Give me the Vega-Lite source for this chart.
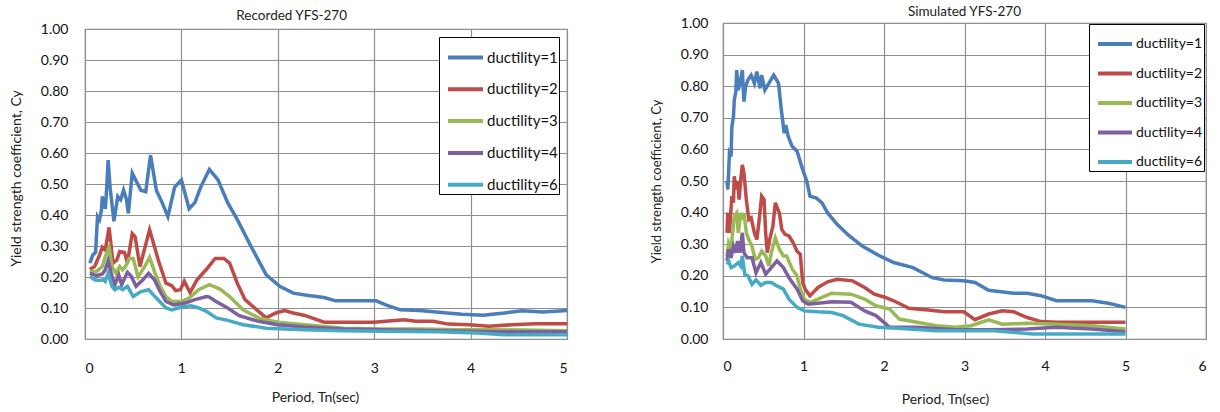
{
  "$schema": "https://vega.github.io/schema/vega-lite/v6.json",
  "padding": {"left": 8, "top": 3, "right": 0, "bottom": 0},
  "background": "white",
  "spacing": 74,
  "config": {
    "font": "Lato",
    "view": {"stroke": "#8a8a8a", "strokeWidth": 1.2},
    "axis": {
      "labelFont": "Lato", "titleFont": "Lato", "labelColor": "#111", "titleColor": "#222",
      "titleFontWeight": "normal", "gridColor": "#8f8f8f", "gridWidth": 1.2, "gridOpacity": 1,
      "ticks": false, "domain": false
    },
    "legend": {"labelFont": "Lato", "labelColor": "#111"},
    "title": {"font": "Lato", "fontWeight": "normal", "color": "#222", "anchor": "middle"}
  },
  "resolve": {"legend": {"color": "independent"}},
  "datasets": {
    "rec": [
      {"T":0.05,"Cy":0.245,"d":"ductility=1"},{"T":0.08,"Cy":0.27,"d":"ductility=1"},{"T":0.11,"Cy":0.28,"d":"ductility=1"},{"T":0.13,"Cy":0.395,"d":"ductility=1"},{"T":0.15,"Cy":0.385,"d":"ductility=1"},{"T":0.17,"Cy":0.415,"d":"ductility=1"},{"T":0.18,"Cy":0.46,"d":"ductility=1"},{"T":0.21,"Cy":0.42,"d":"ductility=1"},{"T":0.22,"Cy":0.46,"d":"ductility=1"},{"T":0.24,"Cy":0.577,"d":"ductility=1"},{"T":0.26,"Cy":0.49,"d":"ductility=1"},{"T":0.30,"Cy":0.38,"d":"ductility=1"},{"T":0.34,"Cy":0.46,"d":"ductility=1"},{"T":0.37,"Cy":0.45,"d":"ductility=1"},{"T":0.40,"Cy":0.48,"d":"ductility=1"},{"T":0.43,"Cy":0.45,"d":"ductility=1"},{"T":0.45,"Cy":0.405,"d":"ductility=1"},{"T":0.49,"Cy":0.535,"d":"ductility=1"},{"T":0.53,"Cy":0.51,"d":"ductility=1"},{"T":0.58,"Cy":0.48,"d":"ductility=1"},{"T":0.63,"Cy":0.475,"d":"ductility=1"},{"T":0.68,"Cy":0.593,"d":"ductility=1"},{"T":0.74,"Cy":0.48,"d":"ductility=1"},{"T":0.80,"Cy":0.44,"d":"ductility=1"},{"T":0.86,"Cy":0.395,"d":"ductility=1"},{"T":0.93,"Cy":0.49,"d":"ductility=1"},{"T":1.00,"Cy":0.513,"d":"ductility=1"},{"T":1.08,"Cy":0.42,"d":"ductility=1"},{"T":1.14,"Cy":0.44,"d":"ductility=1"},{"T":1.20,"Cy":0.49,"d":"ductility=1"},{"T":1.29,"Cy":0.547,"d":"ductility=1"},{"T":1.38,"Cy":0.513,"d":"ductility=1"},{"T":1.48,"Cy":0.44,"d":"ductility=1"},{"T":1.58,"Cy":0.385,"d":"ductility=1"},{"T":1.72,"Cy":0.30,"d":"ductility=1"},{"T":1.88,"Cy":0.207,"d":"ductility=1"},{"T":2.02,"Cy":0.17,"d":"ductility=1"},{"T":2.16,"Cy":0.148,"d":"ductility=1"},{"T":2.32,"Cy":0.14,"d":"ductility=1"},{"T":2.48,"Cy":0.134,"d":"ductility=1"},{"T":2.60,"Cy":0.123,"d":"ductility=1"},{"T":2.80,"Cy":0.123,"d":"ductility=1"},{"T":3.02,"Cy":0.123,"d":"ductility=1"},{"T":3.12,"Cy":0.11,"d":"ductility=1"},{"T":3.27,"Cy":0.094,"d":"ductility=1"},{"T":3.47,"Cy":0.092,"d":"ductility=1"},{"T":3.67,"Cy":0.086,"d":"ductility=1"},{"T":3.91,"Cy":0.08,"d":"ductility=1"},{"T":4.13,"Cy":0.077,"d":"ductility=1"},{"T":4.35,"Cy":0.084,"d":"ductility=1"},{"T":4.53,"Cy":0.091,"d":"ductility=1"},{"T":4.75,"Cy":0.087,"d":"ductility=1"},{"T":5.00,"Cy":0.092,"d":"ductility=1"},
      {"T":0.05,"Cy":0.225,"d":"ductility=2"},{"T":0.10,"Cy":0.234,"d":"ductility=2"},{"T":0.15,"Cy":0.27,"d":"ductility=2"},{"T":0.18,"Cy":0.296,"d":"ductility=2"},{"T":0.21,"Cy":0.287,"d":"ductility=2"},{"T":0.25,"Cy":0.36,"d":"ductility=2"},{"T":0.29,"Cy":0.245,"d":"ductility=2"},{"T":0.33,"Cy":0.255,"d":"ductility=2"},{"T":0.36,"Cy":0.282,"d":"ductility=2"},{"T":0.41,"Cy":0.279,"d":"ductility=2"},{"T":0.44,"Cy":0.245,"d":"ductility=2"},{"T":0.49,"Cy":0.34,"d":"ductility=2"},{"T":0.52,"Cy":0.33,"d":"ductility=2"},{"T":0.57,"Cy":0.234,"d":"ductility=2"},{"T":0.67,"Cy":0.352,"d":"ductility=2"},{"T":0.76,"Cy":0.255,"d":"ductility=2"},{"T":0.84,"Cy":0.18,"d":"ductility=2"},{"T":0.90,"Cy":0.172,"d":"ductility=2"},{"T":0.94,"Cy":0.156,"d":"ductility=2"},{"T":0.99,"Cy":0.159,"d":"ductility=2"},{"T":1.03,"Cy":0.186,"d":"ductility=2"},{"T":1.09,"Cy":0.15,"d":"ductility=2"},{"T":1.16,"Cy":0.19,"d":"ductility=2"},{"T":1.26,"Cy":0.225,"d":"ductility=2"},{"T":1.35,"Cy":0.26,"d":"ductility=2"},{"T":1.44,"Cy":0.26,"d":"ductility=2"},{"T":1.50,"Cy":0.245,"d":"ductility=2"},{"T":1.58,"Cy":0.18,"d":"ductility=2"},{"T":1.66,"Cy":0.127,"d":"ductility=2"},{"T":1.76,"Cy":0.10,"d":"ductility=2"},{"T":1.88,"Cy":0.068,"d":"ductility=2"},{"T":1.98,"Cy":0.084,"d":"ductility=2"},{"T":2.07,"Cy":0.092,"d":"ductility=2"},{"T":2.16,"Cy":0.084,"d":"ductility=2"},{"T":2.28,"Cy":0.076,"d":"ductility=2"},{"T":2.48,"Cy":0.054,"d":"ductility=2"},{"T":2.68,"Cy":0.054,"d":"ductility=2"},{"T":3.00,"Cy":0.054,"d":"ductility=2"},{"T":3.12,"Cy":0.057,"d":"ductility=2"},{"T":3.31,"Cy":0.062,"d":"ductility=2"},{"T":3.43,"Cy":0.057,"d":"ductility=2"},{"T":3.61,"Cy":0.057,"d":"ductility=2"},{"T":3.77,"Cy":0.048,"d":"ductility=2"},{"T":3.99,"Cy":0.046,"d":"ductility=2"},{"T":4.19,"Cy":0.041,"d":"ductility=2"},{"T":4.43,"Cy":0.046,"d":"ductility=2"},{"T":4.67,"Cy":0.049,"d":"ductility=2"},{"T":5.00,"Cy":0.049,"d":"ductility=2"},
      {"T":0.05,"Cy":0.218,"d":"ductility=3"},{"T":0.12,"Cy":0.218,"d":"ductility=3"},{"T":0.18,"Cy":0.234,"d":"ductility=3"},{"T":0.21,"Cy":0.266,"d":"ductility=3"},{"T":0.25,"Cy":0.296,"d":"ductility=3"},{"T":0.28,"Cy":0.234,"d":"ductility=3"},{"T":0.32,"Cy":0.212,"d":"ductility=3"},{"T":0.36,"Cy":0.234,"d":"ductility=3"},{"T":0.39,"Cy":0.223,"d":"ductility=3"},{"T":0.42,"Cy":0.234,"d":"ductility=3"},{"T":0.46,"Cy":0.26,"d":"ductility=3"},{"T":0.50,"Cy":0.26,"d":"ductility=3"},{"T":0.55,"Cy":0.20,"d":"ductility=3"},{"T":0.62,"Cy":0.234,"d":"ductility=3"},{"T":0.67,"Cy":0.263,"d":"ductility=3"},{"T":0.72,"Cy":0.218,"d":"ductility=3"},{"T":0.78,"Cy":0.17,"d":"ductility=3"},{"T":0.84,"Cy":0.137,"d":"ductility=3"},{"T":0.90,"Cy":0.121,"d":"ductility=3"},{"T":1.00,"Cy":0.121,"d":"ductility=3"},{"T":1.08,"Cy":0.132,"d":"ductility=3"},{"T":1.18,"Cy":0.159,"d":"ductility=3"},{"T":1.29,"Cy":0.175,"d":"ductility=3"},{"T":1.40,"Cy":0.161,"d":"ductility=3"},{"T":1.50,"Cy":0.137,"d":"ductility=3"},{"T":1.64,"Cy":0.094,"d":"ductility=3"},{"T":1.80,"Cy":0.068,"d":"ductility=3"},{"T":2.00,"Cy":0.054,"d":"ductility=3"},{"T":2.28,"Cy":0.046,"d":"ductility=3"},{"T":2.68,"Cy":0.035,"d":"ductility=3"},{"T":3.08,"Cy":0.032,"d":"ductility=3"},{"T":3.47,"Cy":0.032,"d":"ductility=3"},{"T":3.87,"Cy":0.030,"d":"ductility=3"},{"T":4.27,"Cy":0.030,"d":"ductility=3"},{"T":5.00,"Cy":0.027,"d":"ductility=3"},
      {"T":0.05,"Cy":0.212,"d":"ductility=4"},{"T":0.12,"Cy":0.204,"d":"ductility=4"},{"T":0.18,"Cy":0.21,"d":"ductility=4"},{"T":0.21,"Cy":0.223,"d":"ductility=4"},{"T":0.24,"Cy":0.253,"d":"ductility=4"},{"T":0.28,"Cy":0.202,"d":"ductility=4"},{"T":0.31,"Cy":0.175,"d":"ductility=4"},{"T":0.35,"Cy":0.207,"d":"ductility=4"},{"T":0.38,"Cy":0.175,"d":"ductility=4"},{"T":0.44,"Cy":0.215,"d":"ductility=4"},{"T":0.48,"Cy":0.202,"d":"ductility=4"},{"T":0.53,"Cy":0.17,"d":"ductility=4"},{"T":0.60,"Cy":0.191,"d":"ductility=4"},{"T":0.66,"Cy":0.212,"d":"ductility=4"},{"T":0.72,"Cy":0.191,"d":"ductility=4"},{"T":0.78,"Cy":0.153,"d":"ductility=4"},{"T":0.84,"Cy":0.121,"d":"ductility=4"},{"T":0.92,"Cy":0.11,"d":"ductility=4"},{"T":1.04,"Cy":0.116,"d":"ductility=4"},{"T":1.14,"Cy":0.127,"d":"ductility=4"},{"T":1.26,"Cy":0.137,"d":"ductility=4"},{"T":1.29,"Cy":0.135,"d":"ductility=4"},{"T":1.36,"Cy":0.121,"d":"ductility=4"},{"T":1.48,"Cy":0.10,"d":"ductility=4"},{"T":1.60,"Cy":0.075,"d":"ductility=4"},{"T":1.80,"Cy":0.057,"d":"ductility=4"},{"T":2.00,"Cy":0.046,"d":"ductility=4"},{"T":2.28,"Cy":0.039,"d":"ductility=4"},{"T":2.68,"Cy":0.032,"d":"ductility=4"},{"T":3.08,"Cy":0.030,"d":"ductility=4"},{"T":3.67,"Cy":0.027,"d":"ductility=4"},{"T":4.27,"Cy":0.023,"d":"ductility=4"},{"T":5.00,"Cy":0.023,"d":"ductility=4"},
      {"T":0.05,"Cy":0.202,"d":"ductility=6"},{"T":0.10,"Cy":0.191,"d":"ductility=6"},{"T":0.15,"Cy":0.189,"d":"ductility=6"},{"T":0.19,"Cy":0.191,"d":"ductility=6"},{"T":0.21,"Cy":0.186,"d":"ductility=6"},{"T":0.24,"Cy":0.212,"d":"ductility=6"},{"T":0.28,"Cy":0.17,"d":"ductility=6"},{"T":0.31,"Cy":0.159,"d":"ductility=6"},{"T":0.35,"Cy":0.167,"d":"ductility=6"},{"T":0.39,"Cy":0.159,"d":"ductility=6"},{"T":0.44,"Cy":0.17,"d":"ductility=6"},{"T":0.50,"Cy":0.137,"d":"ductility=6"},{"T":0.58,"Cy":0.153,"d":"ductility=6"},{"T":0.66,"Cy":0.159,"d":"ductility=6"},{"T":0.74,"Cy":0.132,"d":"ductility=6"},{"T":0.84,"Cy":0.10,"d":"ductility=6"},{"T":0.90,"Cy":0.094,"d":"ductility=6"},{"T":1.00,"Cy":0.103,"d":"ductility=6"},{"T":1.10,"Cy":0.107,"d":"ductility=6"},{"T":1.18,"Cy":0.10,"d":"ductility=6"},{"T":1.26,"Cy":0.089,"d":"ductility=6"},{"T":1.36,"Cy":0.068,"d":"ductility=6"},{"T":1.48,"Cy":0.06,"d":"ductility=6"},{"T":1.64,"Cy":0.046,"d":"ductility=6"},{"T":1.88,"Cy":0.035,"d":"ductility=6"},{"T":2.28,"Cy":0.030,"d":"ductility=6"},{"T":2.68,"Cy":0.027,"d":"ductility=6"},{"T":3.08,"Cy":0.025,"d":"ductility=6"},{"T":3.67,"Cy":0.023,"d":"ductility=6"},{"T":4.07,"Cy":0.019,"d":"ductility=6"},{"T":4.35,"Cy":0.014,"d":"ductility=6"},{"T":5.00,"Cy":0.014,"d":"ductility=6"}
    ],
    "sim": [
      {"T":0.05,"Cy":0.50,"d":"ductility=1"},{"T":0.06,"Cy":0.473,"d":"ductility=1"},{"T":0.08,"Cy":0.588,"d":"ductility=1"},{"T":0.10,"Cy":0.578,"d":"ductility=1"},{"T":0.11,"Cy":0.672,"d":"ductility=1"},{"T":0.13,"Cy":0.704,"d":"ductility=1"},{"T":0.14,"Cy":0.756,"d":"ductility=1"},{"T":0.16,"Cy":0.783,"d":"ductility=1"},{"T":0.17,"Cy":0.851,"d":"ductility=1"},{"T":0.19,"Cy":0.788,"d":"ductility=1"},{"T":0.22,"Cy":0.82,"d":"ductility=1"},{"T":0.24,"Cy":0.851,"d":"ductility=1"},{"T":0.26,"Cy":0.751,"d":"ductility=1"},{"T":0.28,"Cy":0.798,"d":"ductility=1"},{"T":0.31,"Cy":0.82,"d":"ductility=1"},{"T":0.35,"Cy":0.835,"d":"ductility=1"},{"T":0.39,"Cy":0.809,"d":"ductility=1"},{"T":0.42,"Cy":0.846,"d":"ductility=1"},{"T":0.46,"Cy":0.793,"d":"ductility=1"},{"T":0.48,"Cy":0.835,"d":"ductility=1"},{"T":0.52,"Cy":0.788,"d":"ductility=1"},{"T":0.58,"Cy":0.814,"d":"ductility=1"},{"T":0.63,"Cy":0.835,"d":"ductility=1"},{"T":0.69,"Cy":0.809,"d":"ductility=1"},{"T":0.72,"Cy":0.735,"d":"ductility=1"},{"T":0.76,"Cy":0.651,"d":"ductility=1"},{"T":0.78,"Cy":0.677,"d":"ductility=1"},{"T":0.81,"Cy":0.641,"d":"ductility=1"},{"T":0.86,"Cy":0.609,"d":"ductility=1"},{"T":0.92,"Cy":0.594,"d":"ductility=1"},{"T":0.99,"Cy":0.536,"d":"ductility=1"},{"T":1.04,"Cy":0.50,"d":"ductility=1"},{"T":1.08,"Cy":0.452,"d":"ductility=1"},{"T":1.16,"Cy":0.446,"d":"ductility=1"},{"T":1.23,"Cy":0.431,"d":"ductility=1"},{"T":1.30,"Cy":0.399,"d":"ductility=1"},{"T":1.42,"Cy":0.362,"d":"ductility=1"},{"T":1.57,"Cy":0.326,"d":"ductility=1"},{"T":1.73,"Cy":0.294,"d":"ductility=1"},{"T":1.93,"Cy":0.265,"d":"ductility=1"},{"T":2.12,"Cy":0.242,"d":"ductility=1"},{"T":2.36,"Cy":0.226,"d":"ductility=1"},{"T":2.60,"Cy":0.194,"d":"ductility=1"},{"T":2.75,"Cy":0.187,"d":"ductility=1"},{"T":2.99,"Cy":0.184,"d":"ductility=1"},{"T":3.13,"Cy":0.179,"d":"ductility=1"},{"T":3.30,"Cy":0.154,"d":"ductility=1"},{"T":3.61,"Cy":0.145,"d":"ductility=1"},{"T":3.78,"Cy":0.145,"d":"ductility=1"},{"T":3.95,"Cy":0.137,"d":"ductility=1"},{"T":4.14,"Cy":0.121,"d":"ductility=1"},{"T":4.58,"Cy":0.121,"d":"ductility=1"},{"T":4.79,"Cy":0.113,"d":"ductility=1"},{"T":5.00,"Cy":0.10,"d":"ductility=1"},
      {"T":0.05,"Cy":0.336,"d":"ductility=2"},{"T":0.06,"Cy":0.40,"d":"ductility=2"},{"T":0.08,"Cy":0.336,"d":"ductility=2"},{"T":0.11,"Cy":0.452,"d":"ductility=2"},{"T":0.13,"Cy":0.431,"d":"ductility=2"},{"T":0.14,"Cy":0.515,"d":"ductility=2"},{"T":0.16,"Cy":0.473,"d":"ductility=2"},{"T":0.18,"Cy":0.50,"d":"ductility=2"},{"T":0.20,"Cy":0.441,"d":"ductility=2"},{"T":0.22,"Cy":0.504,"d":"ductility=2"},{"T":0.24,"Cy":0.551,"d":"ductility=2"},{"T":0.26,"Cy":0.525,"d":"ductility=2"},{"T":0.29,"Cy":0.441,"d":"ductility=2"},{"T":0.32,"Cy":0.378,"d":"ductility=2"},{"T":0.35,"Cy":0.383,"d":"ductility=2"},{"T":0.39,"Cy":0.336,"d":"ductility=2"},{"T":0.42,"Cy":0.315,"d":"ductility=2"},{"T":0.45,"Cy":0.378,"d":"ductility=2"},{"T":0.48,"Cy":0.452,"d":"ductility=2"},{"T":0.51,"Cy":0.441,"d":"ductility=2"},{"T":0.53,"Cy":0.336,"d":"ductility=2"},{"T":0.55,"Cy":0.273,"d":"ductility=2"},{"T":0.58,"Cy":0.315,"d":"ductility=2"},{"T":0.62,"Cy":0.357,"d":"ductility=2"},{"T":0.65,"Cy":0.431,"d":"ductility=2"},{"T":0.70,"Cy":0.399,"d":"ductility=2"},{"T":0.73,"Cy":0.347,"d":"ductility=2"},{"T":0.77,"Cy":0.331,"d":"ductility=2"},{"T":0.82,"Cy":0.326,"d":"ductility=2"},{"T":0.87,"Cy":0.305,"d":"ductility=2"},{"T":0.92,"Cy":0.278,"d":"ductility=2"},{"T":0.96,"Cy":0.268,"d":"ductility=2"},{"T":0.99,"Cy":0.179,"d":"ductility=2"},{"T":1.02,"Cy":0.158,"d":"ductility=2"},{"T":1.08,"Cy":0.137,"d":"ductility=2"},{"T":1.18,"Cy":0.163,"d":"ductility=2"},{"T":1.30,"Cy":0.181,"d":"ductility=2"},{"T":1.42,"Cy":0.189,"d":"ductility=2"},{"T":1.61,"Cy":0.184,"d":"ductility=2"},{"T":1.76,"Cy":0.163,"d":"ductility=2"},{"T":1.88,"Cy":0.142,"d":"ductility=2"},{"T":2.00,"Cy":0.133,"d":"ductility=2"},{"T":2.12,"Cy":0.121,"d":"ductility=2"},{"T":2.31,"Cy":0.097,"d":"ductility=2"},{"T":2.55,"Cy":0.092,"d":"ductility=2"},{"T":2.75,"Cy":0.086,"d":"ductility=2"},{"T":2.99,"Cy":0.086,"d":"ductility=2"},{"T":3.13,"Cy":0.061,"d":"ductility=2"},{"T":3.30,"Cy":0.079,"d":"ductility=2"},{"T":3.47,"Cy":0.089,"d":"ductility=2"},{"T":3.61,"Cy":0.086,"d":"ductility=2"},{"T":3.78,"Cy":0.068,"d":"ductility=2"},{"T":3.95,"Cy":0.055,"d":"ductility=2"},{"T":4.14,"Cy":0.053,"d":"ductility=2"},{"T":4.58,"Cy":0.053,"d":"ductility=2"},{"T":5.00,"Cy":0.053,"d":"ductility=2"},
      {"T":0.05,"Cy":0.263,"d":"ductility=3"},{"T":0.07,"Cy":0.305,"d":"ductility=3"},{"T":0.10,"Cy":0.289,"d":"ductility=3"},{"T":0.12,"Cy":0.336,"d":"ductility=3"},{"T":0.14,"Cy":0.389,"d":"ductility=3"},{"T":0.17,"Cy":0.399,"d":"ductility=3"},{"T":0.19,"Cy":0.336,"d":"ductility=3"},{"T":0.22,"Cy":0.399,"d":"ductility=3"},{"T":0.24,"Cy":0.378,"d":"ductility=3"},{"T":0.26,"Cy":0.399,"d":"ductility=3"},{"T":0.29,"Cy":0.336,"d":"ductility=3"},{"T":0.32,"Cy":0.315,"d":"ductility=3"},{"T":0.36,"Cy":0.294,"d":"ductility=3"},{"T":0.40,"Cy":0.252,"d":"ductility=3"},{"T":0.44,"Cy":0.257,"d":"ductility=3"},{"T":0.48,"Cy":0.278,"d":"ductility=3"},{"T":0.53,"Cy":0.263,"d":"ductility=3"},{"T":0.57,"Cy":0.231,"d":"ductility=3"},{"T":0.60,"Cy":0.273,"d":"ductility=3"},{"T":0.65,"Cy":0.32,"d":"ductility=3"},{"T":0.70,"Cy":0.284,"d":"ductility=3"},{"T":0.75,"Cy":0.263,"d":"ductility=3"},{"T":0.79,"Cy":0.263,"d":"ductility=3"},{"T":0.86,"Cy":0.221,"d":"ductility=3"},{"T":0.92,"Cy":0.20,"d":"ductility=3"},{"T":0.96,"Cy":0.158,"d":"ductility=3"},{"T":1.01,"Cy":0.126,"d":"ductility=3"},{"T":1.08,"Cy":0.116,"d":"ductility=3"},{"T":1.18,"Cy":0.126,"d":"ductility=3"},{"T":1.35,"Cy":0.145,"d":"ductility=3"},{"T":1.59,"Cy":0.142,"d":"ductility=3"},{"T":1.76,"Cy":0.126,"d":"ductility=3"},{"T":1.90,"Cy":0.105,"d":"ductility=3"},{"T":2.07,"Cy":0.095,"d":"ductility=3"},{"T":2.19,"Cy":0.063,"d":"ductility=3"},{"T":2.41,"Cy":0.053,"d":"ductility=3"},{"T":2.65,"Cy":0.042,"d":"ductility=3"},{"T":2.89,"Cy":0.037,"d":"ductility=3"},{"T":3.08,"Cy":0.042,"d":"ductility=3"},{"T":3.30,"Cy":0.061,"d":"ductility=3"},{"T":3.47,"Cy":0.047,"d":"ductility=3"},{"T":3.78,"Cy":0.05,"d":"ductility=3"},{"T":4.14,"Cy":0.047,"d":"ductility=3"},{"T":4.58,"Cy":0.042,"d":"ductility=3"},{"T":5.00,"Cy":0.032,"d":"ductility=3"},
      {"T":0.05,"Cy":0.247,"d":"ductility=4"},{"T":0.07,"Cy":0.284,"d":"ductility=4"},{"T":0.10,"Cy":0.257,"d":"ductility=4"},{"T":0.13,"Cy":0.294,"d":"ductility=4"},{"T":0.16,"Cy":0.273,"d":"ductility=4"},{"T":0.18,"Cy":0.31,"d":"ductility=4"},{"T":0.21,"Cy":0.273,"d":"ductility=4"},{"T":0.24,"Cy":0.336,"d":"ductility=4"},{"T":0.26,"Cy":0.273,"d":"ductility=4"},{"T":0.30,"Cy":0.257,"d":"ductility=4"},{"T":0.36,"Cy":0.257,"d":"ductility=4"},{"T":0.41,"Cy":0.21,"d":"ductility=4"},{"T":0.47,"Cy":0.242,"d":"ductility=4"},{"T":0.53,"Cy":0.205,"d":"ductility=4"},{"T":0.60,"Cy":0.226,"d":"ductility=4"},{"T":0.67,"Cy":0.247,"d":"ductility=4"},{"T":0.75,"Cy":0.226,"d":"ductility=4"},{"T":0.82,"Cy":0.194,"d":"ductility=4"},{"T":0.92,"Cy":0.158,"d":"ductility=4"},{"T":0.99,"Cy":0.121,"d":"ductility=4"},{"T":1.06,"Cy":0.11,"d":"ductility=4"},{"T":1.18,"Cy":0.113,"d":"ductility=4"},{"T":1.35,"Cy":0.118,"d":"ductility=4"},{"T":1.59,"Cy":0.116,"d":"ductility=4"},{"T":1.76,"Cy":0.089,"d":"ductility=4"},{"T":1.90,"Cy":0.074,"d":"ductility=4"},{"T":2.07,"Cy":0.037,"d":"ductility=4"},{"T":2.41,"Cy":0.037,"d":"ductility=4"},{"T":2.89,"Cy":0.029,"d":"ductility=4"},{"T":3.37,"Cy":0.029,"d":"ductility=4"},{"T":3.78,"Cy":0.032,"d":"ductility=4"},{"T":4.14,"Cy":0.037,"d":"ductility=4"},{"T":4.58,"Cy":0.032,"d":"ductility=4"},{"T":5.00,"Cy":0.023,"d":"ductility=4"},
      {"T":0.05,"Cy":0.236,"d":"ductility=6"},{"T":0.07,"Cy":0.247,"d":"ductility=6"},{"T":0.10,"Cy":0.226,"d":"ductility=6"},{"T":0.14,"Cy":0.231,"d":"ductility=6"},{"T":0.19,"Cy":0.242,"d":"ductility=6"},{"T":0.22,"Cy":0.231,"d":"ductility=6"},{"T":0.24,"Cy":0.263,"d":"ductility=6"},{"T":0.27,"Cy":0.205,"d":"ductility=6"},{"T":0.31,"Cy":0.20,"d":"ductility=6"},{"T":0.36,"Cy":0.173,"d":"ductility=6"},{"T":0.41,"Cy":0.187,"d":"ductility=6"},{"T":0.47,"Cy":0.17,"d":"ductility=6"},{"T":0.53,"Cy":0.179,"d":"ductility=6"},{"T":0.60,"Cy":0.179,"d":"ductility=6"},{"T":0.67,"Cy":0.168,"d":"ductility=6"},{"T":0.75,"Cy":0.158,"d":"ductility=6"},{"T":0.82,"Cy":0.126,"d":"ductility=6"},{"T":0.92,"Cy":0.10,"d":"ductility=6"},{"T":1.01,"Cy":0.089,"d":"ductility=6"},{"T":1.18,"Cy":0.086,"d":"ductility=6"},{"T":1.35,"Cy":0.084,"d":"ductility=6"},{"T":1.49,"Cy":0.074,"d":"ductility=6"},{"T":1.69,"Cy":0.047,"d":"ductility=6"},{"T":1.93,"Cy":0.037,"d":"ductility=6"},{"T":2.17,"Cy":0.034,"d":"ductility=6"},{"T":2.65,"Cy":0.026,"d":"ductility=6"},{"T":3.37,"Cy":0.026,"d":"ductility=6"},{"T":3.85,"Cy":0.016,"d":"ductility=6"},{"T":5.00,"Cy":0.016,"d":"ductility=6"}
    ]
  },
  "hconcat": [
    {
      "title": {"text": "Recorded YFS-270", "fontSize": 13.5, "offset": -1},
      "spacing": 5,
      "bounds": "flush",
      "resolve": {"legend": {"color": "independent"}},
      "vconcat": [
        {
          "data": {"values": []},
          "width": 482,
          "height": 1,
          "view": {"stroke": null},
          "mark": {"type": "rule"},
          "encoding": {}
        },
        {
          "data": {"name": "rec"},
          "width": 482,
          "height": 310,
          "mark": {"type": "line", "strokeWidth": 3.5, "interpolate": "linear"},
          "encoding": {
            "x": {"field": "T", "type": "quantitative", "scale": {"domain": [0, 5], "nice": false},
              "axis": {"title": "Period, Tn(sec)", "values": [0,1,2,3,4,5], "format": "d", "labelFontSize": 14, "titleFontSize": 14, "labelPadding": 22, "titlePadding": 15, "titleX": 230}},
            "y": {"field": "Cy", "type": "quantitative", "scale": {"domain": [0, 1], "nice": false},
              "axis": {"title": "Yield strength coefficient, Cy", "values": [0,0.1,0.2,0.3,0.4,0.5,0.6,0.7,0.8,0.9,1.0], "format": ".2f", "labelFontSize": 14, "titleFontSize": 14, "labelPadding": 17, "titlePadding": 17, "titleY": 149}},
            "color": {"field": "d", "type": "nominal",
              "scale": {"domain": ["ductility=1","ductility=2","ductility=3","ductility=4","ductility=6"], "range": ["#4A7EBB","#BE4B48","#98B954","#7D60A0","#46AAC5"]},
              "legend": {"title": null, "orient": "none", "legendX": 354, "legendY": 8, "symbolType": "stroke", "symbolSize": 1225, "symbolStrokeWidth": 4, "labelFontSize": 15, "labelOffset": 2, "rowPadding": 3.8, "padding": 1, "symbolOffset": 6, "strokeColor": "#000", "fillColor": "#fff"}},
            "order": {"field": "T", "type": "quantitative"}
          }
        }
      ]
    },
    {
      "data": {"name": "sim"},
      "width": 483,
      "height": 316,
      "title": {"text": "Simulated  YFS-270", "fontSize": 13.5, "offset": -2, "frame": "group"},
      "mark": {"type": "line", "strokeWidth": 3.5, "interpolate": "linear"},
      "encoding": {
        "x": {"field": "T", "type": "quantitative", "scale": {"domain": [0, 6], "nice": false},
          "axis": {"title": "Period, Tn(sec)", "values": [0,1,2,3,4,5,6], "format": "d", "labelFontSize": 14, "titleFontSize": 14, "labelPadding": 20, "titlePadding": 19, "titleX": 222}},
        "y": {"field": "Cy", "type": "quantitative", "scale": {"domain": [0, 1], "nice": false},
          "axis": {"title": "Yield strength coefficient, Cy", "values": [0,0.1,0.2,0.3,0.4,0.5,0.6,0.7,0.8,0.9,1.0], "format": ".2f", "labelFontSize": 14, "titleFontSize": 13, "labelPadding": 15, "titlePadding": 17}},
        "color": {"field": "d", "type": "nominal",
          "scale": {"domain": ["ductility=1","ductility=2","ductility=3","ductility=4","ductility=6"], "range": ["#4A7EBB","#BE4B48","#98B954","#7D60A0","#46AAC5"]},
          "legend": {"title": null, "orient": "none", "legendX": 366, "legendY": 1, "symbolType": "stroke", "symbolSize": 1156, "symbolStrokeWidth": 4, "labelFontSize": 14, "labelOffset": 2, "rowPadding": 2.5, "padding": 1, "symbolOffset": 6, "strokeColor": "#000", "fillColor": "#fff"}},
        "order": {"field": "T", "type": "quantitative"}
      }
    }
  ]
}
